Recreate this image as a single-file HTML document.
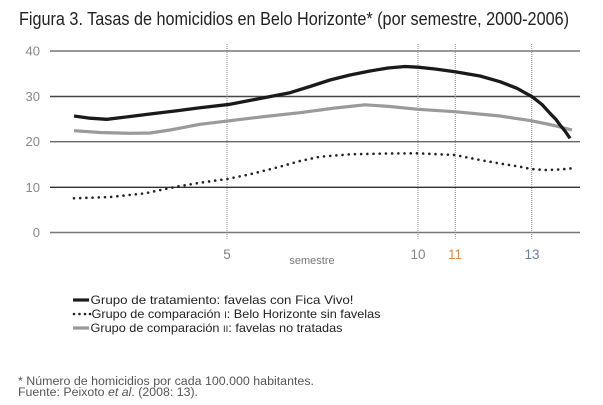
<!DOCTYPE html>
<html><head><meta charset="utf-8"><style>
html,body{margin:0;padding:0;background:#fff;}
svg{display:block;font-family:"Liberation Sans",sans-serif;}
</style></head><body>
<svg width="603" height="405" viewBox="0 0 603 405" xmlns="http://www.w3.org/2000/svg">
<rect width="603" height="405" fill="#fff"/>
<text x="19" y="25" font-size="18.5" fill="#222" textLength="550" lengthAdjust="spacingAndGlyphs">Figura 3. Tasas de homicidios en Belo Horizonte* (por semestre, 2000-2006)</text>

<!-- gridlines -->
<g stroke-width="1.4">
<line x1="50" y1="51" x2="580" y2="51" stroke="#777"/>
<line x1="50" y1="96.5" x2="580" y2="96.5" stroke="#444"/>
<line x1="50" y1="141.7" x2="580" y2="141.7" stroke="#666"/>
<line x1="50" y1="187.3" x2="580" y2="187.3" stroke="#333"/>
<line x1="50" y1="232.5" x2="580" y2="232.5" stroke="#777"/>
</g>
<g font-size="13" fill="#888" text-anchor="end">
<text x="40" y="55.5">40</text>
<text x="40" y="101">30</text>
<text x="40" y="146.2">20</text>
<text x="40" y="191.8">10</text>
<text x="40" y="237">0</text>
</g>

<!-- vertical dotted lines -->
<g stroke="#888" stroke-width="1" stroke-dasharray="1 1">
<line x1="227" y1="44" x2="227" y2="240"/>
<line x1="418" y1="44" x2="418" y2="240"/>
<line x1="455.3" y1="44" x2="455.3" y2="240"/>
<line x1="531.7" y1="44" x2="531.7" y2="240"/>
</g>
<g font-size="13.5" text-anchor="middle">
<text x="227" y="259" fill="#808080">5</text>
<text x="418" y="259" fill="#8a8580">10</text>
<text x="455" y="259" fill="#e0884a">11</text>
<text x="532" y="259" fill="#6a7f99">13</text>
</g>
<text x="312" y="264" font-size="11" fill="#777" text-anchor="middle">semestre</text>

<!-- gray series -->
<polyline fill="none" stroke="#9a9a9a" stroke-width="3.2" stroke-linejoin="round" stroke-linecap="butt"
points="74,130.7 100,132.5 130,133.3 150,133 170,130 200,124.3 230,120.7 265,116.5 300,112.7 335,108 365,104.8 390,106.5 418,109.3 455,111.7 500,116 531,120.7 552,125 572,130"/>
<!-- black series -->
<polyline fill="none" stroke="#1a1a1a" stroke-width="3.3" stroke-linejoin="round" stroke-linecap="butt"
points="74,116 90,118.2 107,119.3 130,116.5 150,114 175,111 200,107.7 230,104.3 260,98.5 290,92.7 310,86.5 330,80 350,75 370,71 388,68 405,66.5 418,67.2 435,69 455,71.7 480,76 500,81.7 517,88.3 532,96.7 542,104.5 550,113.3 556,119.5 560,125 565,131 570,138.3"/>
<!-- dotted series -->
<polyline fill="none" stroke="#222" stroke-width="2.6" stroke-linecap="round" stroke-dasharray="0 6.2"
points="74,198.3 110,197 145,193.3 165,189 180,186 205,182 227,179 250,174.3 280,166.7 300,161 320,156.7 350,154.3 385,153.5 418,153.3 455,155 480,160 500,163.5 520,166.7 531,169 545,170 560,169.5 572,168.3"/>

<!-- legend -->
<line x1="73" y1="300" x2="89" y2="300" stroke="#1a1a1a" stroke-width="3.2"/>
<g fill="#222">
<circle cx="74" cy="314" r="1.3"/><circle cx="79.5" cy="314" r="1.3"/><circle cx="85" cy="314" r="1.3"/><circle cx="90" cy="314" r="1.3"/>
</g>
<line x1="73" y1="328" x2="89" y2="328" stroke="#9a9a9a" stroke-width="3.2"/>
<g font-size="12" fill="#222">
<text x="90.5" y="304" textLength="263" lengthAdjust="spacingAndGlyphs">Grupo de tratamiento: favelas con Fica Vivo!</text>
<text x="91.5" y="318" textLength="289" lengthAdjust="spacingAndGlyphs">Grupo de comparación <tspan font-size="9">I</tspan>: Belo Horizonte sin favelas</text>
<text x="90.5" y="332" textLength="252" lengthAdjust="spacingAndGlyphs">Grupo de comparación <tspan font-size="9">II</tspan>: favelas no tratadas</text>
</g>

<!-- footnote -->
<g font-size="11.5" fill="#555">
<text x="18" y="385" textLength="296" lengthAdjust="spacingAndGlyphs">* Número de homicidios por cada 100.000 habitantes.</text>
<text x="18" y="396" textLength="180" lengthAdjust="spacingAndGlyphs">Fuente: Peixoto <tspan font-style="italic">et al</tspan>. (2008: 13).</text>
</g>
</svg>
</body></html>
